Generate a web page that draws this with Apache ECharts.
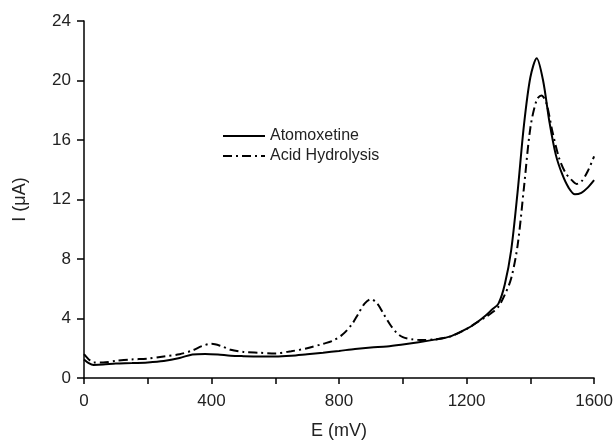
<!DOCTYPE html>
<html>
<head>
<meta charset="utf-8">
<script src="https://cdn.jsdelivr.net/npm/echarts@6/dist/echarts.min.js"></script>
<style>html,body{margin:0;padding:0;background:#fff}#c{width:616px;height:445px}</style>
</head>
<body>
<div id="c"></div>
<script>
var seriesNames = ['Atomoxetine', 'Acid Hydrolysis'];
var xTicks = [0, 400, 800, 1200, 1600];
var yTicks = [0, 4, 8, 12, 16, 20, 24];

var atoE = [0,15,30,60,100,150,200,250,300,340,380,420,460,500,550,600,650,700,750,800,850,900,950,1000,1050,1100,1150,1200,1230,1260,1280,1300,1320,1340,1360,1380,1400,1420,1440,1460,1480,1500,1520,1540,1560,1580,1600];
var atoI = [1.25,1.0,0.88,0.9,0.97,1.0,1.05,1.15,1.35,1.58,1.62,1.58,1.5,1.47,1.45,1.45,1.5,1.6,1.7,1.82,1.95,2.05,2.12,2.25,2.4,2.58,2.8,3.3,3.7,4.2,4.6,5.0,6.3,8.6,12.5,17.0,20.2,21.5,20.0,17.2,15.0,13.7,12.8,12.35,12.45,12.8,13.3];

var hydE = [0,15,30,60,100,150,200,250,300,340,370,400,430,460,500,550,600,650,700,750,780,810,840,860,880,900,920,940,960,980,1000,1030,1060,1100,1150,1200,1230,1260,1280,1300,1320,1340,1360,1380,1400,1420,1435,1450,1470,1490,1510,1530,1545,1560,1580,1600];
var hydI = [1.6,1.25,1.05,1.05,1.15,1.25,1.3,1.45,1.6,1.85,2.15,2.3,2.15,1.9,1.75,1.7,1.65,1.8,2.0,2.3,2.5,2.9,3.6,4.3,5.0,5.3,5.0,4.3,3.6,3.05,2.75,2.6,2.55,2.6,2.8,3.3,3.7,4.1,4.4,4.8,5.6,6.7,8.9,12.8,16.8,18.7,19.0,18.5,16.5,14.8,13.8,13.3,13.05,13.2,13.9,14.9];

function pairs(xs, ys) { return xs.map(function (x, i) { return [x, ys[i]]; }); }

var FONT = 'Liberation Sans, Arial, sans-serif';
var chart = echarts.init(document.getElementById('c'), null, { renderer: 'canvas' });
chart.setOption({
  animation: false,
  backgroundColor: '#fff',
  grid: { left: 84, right: 21, top: 21, bottom: 66, containLabel: false },
  legend: {
    left: 217, top: 123, orient: 'vertical', itemGap: 4,
    itemWidth: 42, itemHeight: 16,
    itemStyle: { opacity: 0 },
    textStyle: { color: '#222', fontSize: 16, fontFamily: FONT },
    data: seriesNames
  },
  xAxis: {
    type: 'value', min: 0, max: 1600, interval: 400,
    name: 'E (mV)', nameLocation: 'middle', nameGap: 44,
    nameTextStyle: { color: '#222', fontSize: 18, fontFamily: FONT },
    axisLine: { show: true, onZero: false, lineStyle: { color: '#000', width: 1.5 } },
    axisTick: { show: true, inside: false, length: 6, lineStyle: { color: '#000', width: 1.5 } },
    minorTick: { show: true, splitNumber: 2, length: 6, lineStyle: { color: '#000', width: 1.5 } },
    axisLabel: { margin: 15, color: '#222', fontSize: 17, fontFamily: FONT, formatter: function (v) { return xTicks.indexOf(v) >= 0 ? String(v) : ''; } },
    splitLine: { show: false }
  },
  yAxis: {
    type: 'value', min: 0, max: 24, interval: 4,
    name: 'I (\u03bcA)', nameLocation: 'middle', nameGap: 55, nameRotate: 90,
    nameTextStyle: { color: '#222', fontSize: 18, fontFamily: FONT },
    axisLine: { show: true, lineStyle: { color: '#000', width: 1.5 } },
    axisTick: { show: true, inside: false, length: 7, lineStyle: { color: '#000', width: 1.5 } },
    axisLabel: { margin: 13, color: '#222', fontSize: 17, fontFamily: FONT, formatter: function (v) { return yTicks.indexOf(v) >= 0 ? String(v) : ''; } },
    splitLine: { show: false }
  },
  series: [
    {
      name: seriesNames[0], type: 'line', data: pairs(atoE, atoI),
      smooth: 0.3, symbol: 'none', showSymbol: false,
      lineStyle: { color: '#000', width: 2, type: 'solid' },
      itemStyle: { color: '#000' }
    },
    {
      name: seriesNames[1], type: 'line', data: pairs(hydE, hydI),
      smooth: 0.3, symbol: 'none', showSymbol: false,
      lineStyle: { color: '#000', width: 2, type: [9, 4, 2, 4] },
      itemStyle: { color: '#000' }
    }
  ]
});
</script>
</body>
</html>
